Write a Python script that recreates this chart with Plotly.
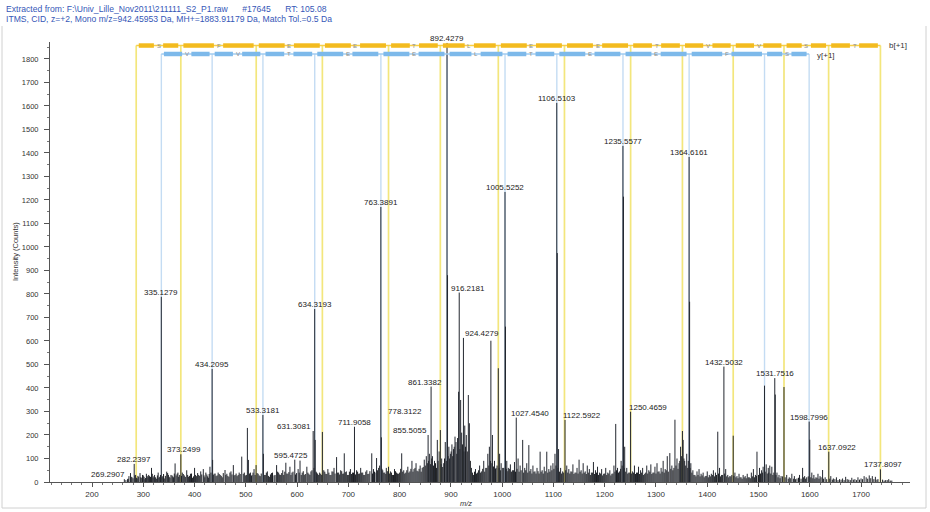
import plotly.graph_objects as go

# ---------------- data ----------------
header_line1 = ("Extracted from: F:\\Univ_Lille_Nov2011\\211111_S2_P1.raw" + "&nbsp;" * 6 +
                "#17645" + "&nbsp;" * 6 + "RT: 105.08")
header_line2 = "ITMS, CID, z=+2, Mono m/z=942.45953 Da, MH+=1883.91179 Da, Match Tol.=0.5 Da"

# labelled peaks (m/z, intensity in counts)
label_mz = [269.2907, 282.2397, 335.1279, 373.2499, 434.2095, 533.3181, 595.4725, 631.3081,
            634.3193, 711.9058, 763.3891, 778.3122, 855.5055, 861.3382, 892.4279, 916.2181,
            924.4279, 1005.5252, 1027.4540, 1106.5103, 1122.5922, 1235.5577, 1250.4659,
            1364.6161, 1432.5032, 1531.7516, 1598.7996, 1637.0922, 1737.8097]
label_int = [12, 77, 788, 118, 481, 285, 95, 217, 736, 235, 1170, 65, 200, 406, 1868, 806,
             613, 1234, 274, 1613, 264, 1430, 299, 1383, 491, 442, 257, 129, 54]

# other (unlabelled) peaks: (m/z, intensity)
other_peaks = [
    (263, 12), (266, 8), (272, 25), (275, 38), (278, 20), (285, 30), (288, 15), (291, 22),
    (293.6, 38), (297, 18), (300, 28), (303, 12), (306, 35), (309, 20), (312, 25), (316, 60),
    (319, 18), (322, 30), (326, 14), (329, 40), (332, 22), (338, 25), (341, 15), (345.7, 44),
    (349, 30), (352, 18), (356, 28), (359, 20), (362, 79), (366, 35), (369, 22), (376, 40),
    (380, 28), (384.7, 50), (388, 22), (392, 35), (396, 18), (400, 60), (404, 25), (408, 30),
    (412, 45), (417, 55), (420, 20), (424, 32), (427, 18), (430, 65), (435.2, 94), (438, 35),
    (442, 25), (446, 40), (450, 30), (454, 20), (459.4, 51), (463, 35), (467, 22), (471, 45),
    (475.6, 72), (479, 30), (483, 25), (487, 40), (492, 108), (495, 35), (499, 28), (503, 230),
    (505, 94), (509, 40), (512, 30), (516, 55), (520, 72), (524, 35), (528, 25), (534.3, 120),
    (538, 30), (542, 45), (546, 22), (550, 38), (555, 28), (560, 72), (564, 40), (568, 30),
    (572, 50), (578, 82), (582, 35), (586, 65), (590, 40), (599, 38), (602, 55), (605.7, 91),
    (610, 40), (614, 30), (619, 65), (623, 35), (627, 45), (635.3, 179), (638, 40), (642, 30),
    (646, 35), (649.3, 213), (652, 50), (656, 35), (660, 55), (664, 30), (668, 45), (672, 60),
    (677, 106), (681, 40), (685, 50), (689, 35), (692, 122), (696, 45), (700, 30), (704, 55),
    (708, 40), (716, 50), (720, 35), (724, 60), (728, 40), (732, 30), (736, 50), (740, 35),
    (745.6, 122), (749, 55), (752, 40), (755, 102), (759, 60), (764.4, 190), (767, 50),
    (771, 40), (774, 60), (782, 45), (786, 30), (790, 55), (794, 40), (798, 35), (804, 122),
    (808, 50), (812, 40), (816, 65), (820, 45), (824, 90), (828, 55), (832, 80), (836, 45),
    (840, 70), (844, 60), (848, 95), (852, 110), (858, 120), (864, 110), (868, 90),
    (873.5, 179), (877, 130), (879.4, 221), (882, 100), (886, 80), (889, 170), (893.4, 880),
    (896, 150), (899, 120), (902, 160), (905, 140), (908, 193), (910, 170), (913, 187),
    (915, 384), (919, 349), (921, 210), (927, 240), (930, 200), (934, 370), (936, 250),
    (940, 60), (944, 30), (948, 55), (952, 40), (956, 70), (960, 45), (964, 90), (968, 60),
    (972, 120), (975, 150), (978, 601), (981, 200), (985, 90), (988, 60), (992.46, 484),
    (995, 120), (998, 80), (1001, 60), (1006.5, 661), (1009, 90), (1012, 60), (1016, 75),
    (1020, 50), (1024, 85), (1031, 100), (1035, 70), (1040, 179), (1044, 60), (1048, 80),
    (1052, 157), (1056, 55), (1060, 70), (1064, 45), (1068, 60), (1074, 129), (1078, 50),
    (1082, 65), (1087, 129), (1091, 55), (1095, 70), (1099, 80), (1103, 120), (1107.5, 974),
    (1110, 140), (1114, 60), (1118, 45), (1126, 70), (1130, 55), (1134, 45), (1138, 75),
    (1142, 40), (1146, 60), (1150, 95), (1154, 50), (1158, 80), (1162, 45), (1166, 70),
    (1170, 55), (1174, 40), (1178, 85), (1182, 50), (1186, 65), (1190, 40), (1194, 55),
    (1198, 35), (1202, 60), (1206, 40), (1210, 50), (1214, 35), (1218, 70), (1221.5, 247),
    (1225, 60), (1229, 45), (1232, 90), (1236.6, 1214), (1239, 150), (1243, 60), (1247, 40),
    (1254, 45), (1258, 70), (1262, 40), (1266, 65), (1270, 50), (1274, 60), (1278, 35),
    (1282, 70), (1286, 50), (1290, 75), (1294, 40), (1298, 65), (1302, 80), (1306, 45),
    (1310, 60), (1314, 90), (1318, 55), (1322, 110), (1327, 123), (1331, 70), (1337, 265),
    (1341, 100), (1345, 80), (1348, 150), (1351.6, 217), (1353, 179), (1356, 90), (1360, 120),
    (1365.6, 767), (1368, 80), (1372, 50), (1376, 30), (1380, 45), (1384, 55), (1388, 35),
    (1392, 40), (1396, 25), (1400, 45), (1404, 30), (1408, 35), (1412, 50), (1416, 40),
    (1420.5, 214), (1424, 60), (1428, 30), (1436, 55), (1440, 30), (1444, 25), (1450.7, 197),
    (1454, 40), (1458, 25), (1462, 35), (1466, 20), (1470, 30), (1474, 25), (1478, 35),
    (1482, 20), (1486, 40), (1490, 55), (1494, 30), (1497, 129), (1502, 60), (1506, 50),
    (1509, 65), (1511.75, 410), (1515, 75), (1519, 60), (1522, 70), (1526, 65), (1532.7, 372),
    (1536, 40), (1540, 30), (1544, 25), (1549.7, 404), (1555, 30), (1560, 20), (1565, 35),
    (1570, 25), (1575, 15), (1580, 30), (1586, 60), (1590, 25), (1594, 20), (1600, 180),
    (1604, 40), (1608, 30), (1612, 20), (1616, 35), (1620, 25), (1625, 51), (1630, 20),
    (1641, 25), (1646, 15), (1652, 20), (1658, 12), (1664, 15), (1670, 22), (1676, 10),
    (1682, 18), (1688, 12), (1694, 20), (1700, 15), (1706, 25), (1710, 20), (1716, 28),
    (1722, 25), (1728, 22), (1733, 12), (1742, 10), (1748, 8), (1754, 12), (1760, 6),
]

# dense low-level baseline peaks: (m/z, intensity)
baseline_peaks = [
    (270.5, 14), (276.5, 22), (280, 16), (283.5, 28), (286.5, 18), (289.5, 26), (295, 20),
    (298.5, 30), (301.5, 22), (304.5, 17), (307.5, 26), (310.5, 30), (314, 22), (317.5, 35),
    (320.5, 24), (324, 20), (327.5, 28), (330.5, 18), (333.5, 30), (336.5, 20), (339.5, 34),
    (343, 26), (347.5, 38), (350.5, 22), (354, 30), (357.5, 24), (360.5, 36), (364, 28),
    (367.5, 40), (371, 30), (374.5, 26), (378, 34), (382, 22), (386.5, 30), (390, 26),
    (394, 36), (398, 24), (402, 30), (406, 38), (410, 26), (414, 32), (418.5, 28), (422, 40),
    (425.5, 24), (428.5, 34), (432, 40), (436.5, 30), (440, 36), (444, 28), (448, 34),
    (452, 26), (456, 38), (461, 30), (465, 26), (469, 40), (473, 32), (477, 28), (481, 36),
    (485, 30), (489, 34), (497, 40), (501, 30), (507, 36), (511, 26), (514, 40), (518, 30),
    (522, 38), (526, 28), (530, 36), (536, 30), (540, 40), (544, 26), (548, 32), (552, 40),
    (557, 30), (562, 44), (566, 32), (570, 38), (574, 30), (576, 44), (580, 36), (584, 42),
    (588, 30), (592, 44), (597, 32), (604, 40), (608, 30), (612, 46), (616, 34), (621, 40),
    (625, 30), (629, 50), (633, 60), (637, 44), (640, 36), (644, 40), (648, 30), (654, 44),
    (658, 34), (662, 40), (666, 30), (670, 44), (674, 36), (679, 40), (683, 32), (687, 46),
    (691, 36), (694, 42), (698, 30), (702, 44), (706, 34), (710, 40), (714, 32), (718, 44),
    (722, 36), (726, 40), (730, 30), (734, 44), (738, 34), (742, 46), (747, 36), (751, 44),
    (757, 50), (761, 70), (765.5, 56), (769, 40), (773, 34), (776, 46), (780, 36), (784, 40),
    (788, 30), (792, 46), (796, 36), (800, 40), (802, 56), (806, 44), (810, 36), (814, 50),
    (818, 40), (822, 56), (826, 44), (830, 60), (834, 48), (838, 56), (842, 44), (846, 64),
    (850, 70), (854, 80), (856.5, 90), (860, 76), (862.5, 100), (866, 70), (870, 80),
    (872, 60), (875, 90), (881, 76), (884, 64), (887.5, 100), (891, 90), (894.5, 110),
    (897.5, 100), (900.5, 130), (903.5, 110), (906.5, 150), (911.5, 120), (917.5, 140),
    (922.5, 160), (925.5, 130), (928.5, 150), (932, 130), (938, 90), (942, 40), (946, 44),
    (950, 36), (954, 50), (958, 40), (962, 56), (966, 44), (970, 60), (974, 70), (977, 90),
    (980, 80), (983, 66), (987, 56), (990, 70), (994, 60), (997, 50), (1003, 60), (1008, 56),
    (1011, 46), (1014, 56), (1018, 44), (1022, 50), (1026, 44), (1029, 56), (1033, 44),
    (1037, 50), (1042, 40), (1046, 50), (1050, 40), (1054, 46), (1058, 36), (1062, 44),
    (1066, 36), (1070, 46), (1072, 36), (1076, 44), (1080, 36), (1084, 46), (1089, 40),
    (1093, 44), (1097, 50), (1101, 56), (1105, 70), (1109, 60), (1112, 44), (1116, 36),
    (1120, 40), (1124, 50), (1128, 40), (1132, 36), (1136, 44), (1140, 34), (1144, 40),
    (1148, 36), (1152, 44), (1156, 36), (1160, 40), (1164, 34), (1168, 40), (1172, 30),
    (1176, 40), (1180, 34), (1184, 40), (1188, 30), (1192, 36), (1196, 28), (1200, 36),
    (1204, 30), (1208, 36), (1212, 28), (1216, 36), (1220, 44), (1223, 50), (1227, 40),
    (1231, 56), (1234, 70), (1238, 60), (1241, 44), (1245, 36), (1249, 40), (1252, 36),
    (1256, 40), (1260, 34), (1264, 40), (1268, 34), (1272, 40), (1276, 30), (1280, 40),
    (1284, 36), (1288, 44), (1292, 34), (1296, 40), (1300, 36), (1304, 44), (1308, 36),
    (1312, 44), (1316, 40), (1320, 50), (1324, 44), (1329, 56), (1333, 50), (1335, 60),
    (1339, 70), (1343, 56), (1346.5, 90), (1349.5, 110), (1354.5, 100), (1358, 70),
    (1362, 60), (1363, 90), (1366.5, 60), (1370, 40), (1374, 30), (1378, 24), (1382, 30),
    (1386, 24), (1390, 28), (1394, 20), (1398, 26), (1402, 20), (1406, 24), (1410, 30),
    (1414, 24), (1418, 30), (1422, 36), (1426, 24), (1430, 30), (1434, 36), (1438, 24),
    (1442, 20), (1446, 24), (1448, 30), (1452, 26), (1456, 20), (1460, 16), (1464, 20),
    (1468, 14), (1472, 20), (1476, 16), (1480, 20), (1484, 16), (1488, 24), (1492, 20),
    (1496, 26), (1500, 30), (1504, 36), (1508, 40), (1513, 44), (1517, 36), (1520, 40),
    (1524, 36), (1528, 30), (1530, 40), (1534, 30), (1538, 20), (1542, 16), (1547, 24),
    (1552, 20), (1558, 14), (1562, 16), (1568, 14), (1572, 12), (1578, 18), (1583, 14),
    (1588, 20), (1592, 14), (1597, 24), (1602, 20), (1606, 16), (1610, 14), (1614, 18),
    (1618, 14), (1622, 20), (1627, 14), (1633, 12), (1639, 14), (1644, 10), (1649, 12),
    (1655, 8), (1661, 10), (1667, 8), (1673, 12), (1679, 8), (1685, 10), (1691, 8),
    (1697, 10), (1703, 12), (1713, 14), (1719, 16), (1725, 12), (1731, 10), (1745, 6),
    (1751, 8), (1757, 6),
]

# fragment ion ladders
b_ions = [286.14, 373.17, 520.24, 649.28, 778.33, 879.37, 992.46, 1121.50, 1250.54,
          1351.59, 1450.66, 1549.73, 1636.76, 1737.81]
b_residues = ["S", "F", "E", "E", "T", "L", "E", "E", "T", "V", "V", "S", "T"]
y_ions = [335.19, 434.26, 533.33, 634.38, 763.42, 892.46, 1005.55, 1106.59, 1235.64,
          1364.68, 1511.75, 1598.78]
y_residues = ["V", "V", "T", "E", "E", "L", "T", "E", "E", "F", "S"]

# label displacement (px) for labels drawn with leader lines
label_shift = {"269.2907": (-20, 0), "373.2499": (3, 0), "595.4725": (-4, 0),
               "631.3081": (-19, 0), "778.3122": (16, 51), "855.5055": (-18, 0),
               "861.3382": (-6, 0), "916.2181": (9, 0), "924.4279": (19, 0),
               "1027.4540": (14, 0), "1122.5922": (17, 0), "1250.4659": (17, 0),
               "1637.0922": (8, 0), "1737.8097": (3, 0)}

# ---------------- figure ----------------
FONT = "Arial, Liberation Sans, sans-serif"
Y_B = 1857
Y_Y = 1821
XR = [118, 1795.5]
YR = [0, 1872]

fig = go.Figure()

def vlines(xs, top):
    X, Y = [], []
    for x in xs:
        X += [x, x, None]
        Y += [0, top, None]
    return X, Y

# ion lines
X, Y = vlines(y_ions, Y_Y)
fig.add_trace(go.Scatter(x=X, y=Y, mode="lines", line=dict(color="#c4dcf3", width=1.4),
                         hoverinfo="skip", showlegend=False))
X, Y = vlines(b_ions, Y_B)
fig.add_trace(go.Scatter(x=X, y=Y, mode="lines", line=dict(color="#f3e67c", width=1.7),
                         hoverinfo="skip", showlegend=False))

# peaks
def sticks(peaks):
    PX, PY = [], []
    for m, h in peaks:
        PX += [m, m, None]
        PY += [0, h, None]
    return PX, PY

PX, PY = sticks(baseline_peaks)
fig.add_trace(go.Scatter(x=PX, y=PY, mode="lines", line=dict(color="#1e1f22", width=1),
                         hoverinfo="skip", showlegend=False))
PX, PY = sticks(other_peaks + list(zip(label_mz, label_int)))
fig.add_trace(go.Scatter(x=PX, y=PY, mode="lines", line=dict(color="#23272f", width=1),
                         hoverinfo="skip", showlegend=False))

# ladders
def ladder(ions, residues, yv, thin_col, thick_col):
    fig.add_trace(go.Scatter(x=[ions[0], ions[-1]], y=[yv, yv], mode="lines",
                             line=dict(color=thin_col, width=1.4), hoverinfo="skip",
                             showlegend=False))
    X, Y = [], []
    for i in range(len(ions) - 1):
        a, b = ions[i], ions[i + 1]
        mid = (a + b) / 2
        X += [a + 5, mid - 9, None, mid + 9, b - 5, None]
        Y += [yv, yv, None, yv, yv, None]
        fig.add_annotation(x=mid, y=yv, text=residues[i], showarrow=False,
                           font=dict(size=6, color="#8a8a8a", family=FONT))
    fig.add_trace(go.Scatter(x=X, y=Y, mode="lines", line=dict(color=thick_col, width=4.5),
                             hoverinfo="skip", showlegend=False))

ladder(b_ions, b_residues, Y_B, "#f6cf4a", "#f3bb1f")
ladder(y_ions, y_residues, Y_Y, "#9fcbf0", "#7db9ea")

fig.add_annotation(x=b_ions[-1], y=Y_B, text="b[+1]", showarrow=False, xanchor="left",
                   xshift=7, font=dict(size=8, color="#333", family=FONT))
fig.add_annotation(x=y_ions[-1], y=Y_Y, text="y[+1]", showarrow=False, xanchor="left",
                   xshift=6, yshift=-2, font=dict(size=8, color="#333", family=FONT))

# peak labels
for m, h in zip(label_mz, label_int):
    t = f"{m:.4f}"
    dx, dy = label_shift.get(t, (0, 0))
    fig.add_annotation(x=m, y=h, text=t, showarrow=False, yanchor="bottom",
                       xshift=dx, yshift=dy - 2,
                       font=dict(size=8, color="#222", family=FONT))

# header
fig.add_annotation(xref="paper", yref="paper", x=-46 / 860, y=(482 - 2) / 440, xanchor="left",
                   yanchor="top", text=header_line1, showarrow=False,
                   font=dict(size=8.6, color="#3557b7", family=FONT))
fig.add_annotation(xref="paper", yref="paper", x=-46 / 860, y=(482 - 12) / 440, xanchor="left",
                   yanchor="top", text=header_line2, showarrow=False,
                   font=dict(size=8.6, color="#3557b7", family=FONT))
# axis titles
fig.add_annotation(xref="paper", yref="paper", x=(15 - 50) / 860, y=(482 - 252) / 440,
                   xanchor="center", yanchor="middle",
                   text="Intensity (Counts)", textangle=-90, showarrow=False,
                   font=dict(size=7.5, color="#333", family=FONT))
fig.add_annotation(xref="paper", yref="paper", x=(466 - 50) / 860, y=(482 - 503) / 440,
                   xanchor="center", yanchor="middle",
                   text="<i>m/z</i>", showarrow=False,
                   font=dict(size=7.5, color="#333", family=FONT))

# frame (left, right, bottom)
for x0, y0, x1, y1 in [(2, 26, 2, 508), (926, 26, 926, 508), (2, 508, 926, 508)]:
    fig.add_shape(type="line", xref="paper", yref="paper",
                  x0=(x0 - 50) / 860, x1=(x1 - 50) / 860,
                  y0=(482 - y0) / 440, y1=(482 - y1) / 440,
                  line=dict(color="#d0d0d0", width=1))

fig.update_layout(
    width=930, height=512, margin=dict(l=50, r=20, t=42, b=30),
    paper_bgcolor="white", plot_bgcolor="white",
    font=dict(family=FONT, size=8, color="#333"),
    xaxis=dict(range=XR, showgrid=False, zeroline=False, showline=True, linecolor="#555",
               linewidth=1, ticks="outside", ticklen=4, tickcolor="#555", tick0=200, dtick=100,
               tickfont=dict(size=8, color="#333"),
               minor=dict(ticks="outside", ticklen=2, dtick=20, tickcolor="#777")),
    yaxis=dict(range=YR, showgrid=False, zeroline=False, showline=True, linecolor="#555",
               linewidth=1, ticks="outside", ticklen=5, tickcolor="#555", tick0=0, dtick=100,
               ticklabelstandoff=4,
               tickfont=dict(size=7.5, color="#333"),
               minor=dict(ticks="outside", ticklen=2, dtick=50, tickcolor="#777")),
)

fig.write_html("out.html")
